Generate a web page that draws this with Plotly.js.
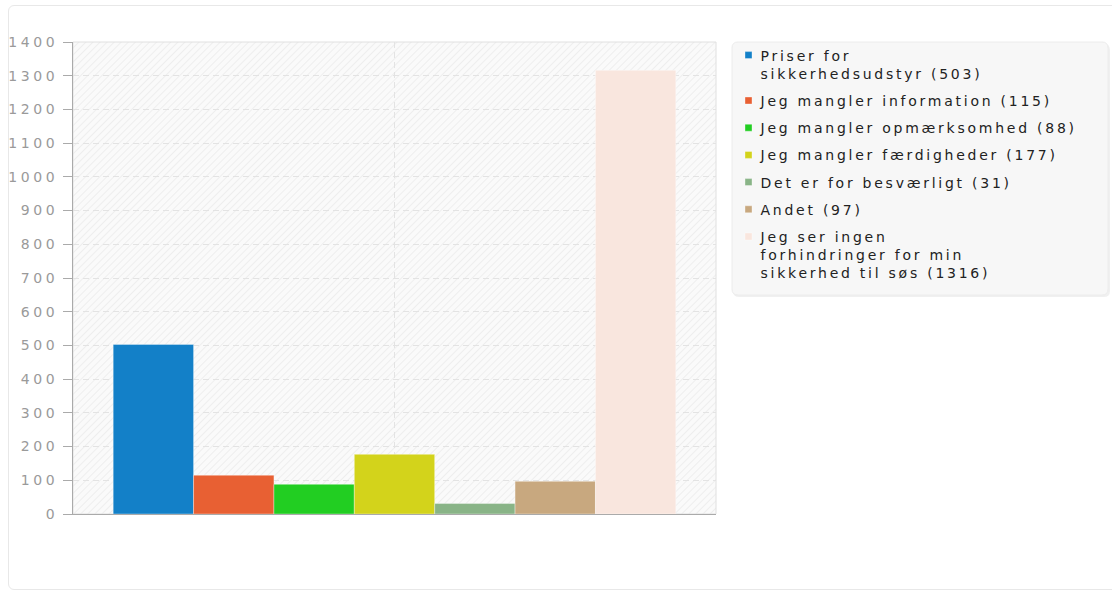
<!DOCTYPE html>
<html><head><meta charset="utf-8">
<script src="https://cdn.plot.ly/plotly-3.0.1.min.js"></script>
<style>
html,body{margin:0;padding:0;background:#fff;}
#card{position:absolute;left:8px;top:5px;width:1110px;height:585px;border:1px solid #e8e8e8;border-radius:6px;box-sizing:border-box;}
#chart{position:absolute;left:0;top:0;width:1112px;height:592px;}
svg text{letter-spacing:3.6px;}
svg text.legendtext{letter-spacing:2.75px;}
#chart .bglayer .bg{fill:url(#hatch) !important;}
</style></head>
<body>
<svg width="0" height="0" style="position:absolute">
  <defs>
    <pattern id="hatch" patternUnits="userSpaceOnUse" width="5" height="5" patternTransform="rotate(45)">
      <rect width="5" height="5" fill="#fafafa"></rect>
      <line x1="0" y1="0" x2="0" y2="5" stroke="#ececec" stroke-width="1.6"></line>
    </pattern>
  </defs>
</svg>
<div id="card"></div>
<div id="chart"></div>
<script>
const categories = ['Svar'];
const seriesNames = [
  'Priser for<br>sikkerhedsudstyr (503)',
  'Jeg mangler information (115)',
  'Jeg mangler opmærksomhed (88)',
  'Jeg mangler færdigheder (177)',
  'Det er for besværligt (31)',
  'Andet (97)',
  'Jeg ser ingen<br>forhindringer for min<br>sikkerhed til søs (1316)'
];
const seriesValues = [503, 115, 88, 177, 31, 97, 1316];
const seriesColors = ['#1380c8', '#e86033', '#22ce22', '#d3d31b', '#89b487', '#c8a87f', '#f9e6de'];
const yTicks = [0,100,200,300,400,500,600,700,800,900,1000,1100,1200,1300,1400];

const traces = seriesNames.map((n, i) => ({
  type: 'bar',
  name: n,
  x: categories,
  y: [seriesValues[i]],
  legendgroup: 'g' + i,
  marker: {color: seriesColors[i], line: {color: 'rgba(255,255,255,0.35)', width: 1}},
  hoverinfo: 'name+y'
}));

// legend panel drawn as paper-referenced shapes
const L = 73, T = 42, PW = 643, PH = 472;
const px = v => (v - L) / PW;
const py = v => (T + PH - v) / PH;
function roundRect(x0, y0, x1, y1, r) {
  const rx = r / PW, ry = r / PH;
  const X0 = px(x0), X1 = px(x1), Y0 = py(y0), Y1 = py(y1);
  return `M${X0 + rx},${Y0} L${X1 - rx},${Y0} Q${X1},${Y0} ${X1},${Y0 - ry} L${X1},${Y1 + ry} Q${X1},${Y1} ${X1 - rx},${Y1} L${X0 + rx},${Y1} Q${X0},${Y1} ${X0},${Y1 + ry} L${X0},${Y0 - ry} Q${X0},${Y0} ${X0 + rx},${Y0} Z`;
}

const layout = {
  width: 1112, height: 592,
  margin: {l: L, r: 1112 - L - PW, t: T, b: 592 - T - PH},
  paper_bgcolor: 'rgba(0,0,0,0)',
  plot_bgcolor: '#fafafa',
  barmode: 'group',
  bargap: 0.125,
  bargroupgap: 0,
  font: {family: 'DejaVu Sans, Verdana, sans-serif', size: 14, color: '#333'},
  xaxis: {
    type: 'category', showticklabels: false, ticks: '',
    showgrid: true, gridcolor: '#e3e3e3', griddash: '6px,4px', gridwidth: 1,
    showline: true, linecolor: '#aaaaaa', linewidth: 1,
    zeroline: false, fixedrange: true
  },
  yaxis: {
    range: [0, 1400], tickvals: yTicks, ticktext: yTicks.map(String),
    ticks: 'outside', ticklen: 9, tickcolor: '#aaaaaa',
    ticklabelstandoff: 2,
    tickfont: {size: 14, color: '#9a9a9a'},
    showgrid: true, gridcolor: '#e3e3e3', griddash: '6px,4px', gridwidth: 1,
    showline: true, linecolor: '#aaaaaa', linewidth: 1,
    zeroline: false, fixedrange: true
  },
  shapes: [
    {type: 'rect', xref: 'paper', yref: 'paper', x0: 0, x1: 1, y0: 0, y1: 1,
     line: {color: '#e0e0e0', width: 1}, fillcolor: 'rgba(0,0,0,0)', layer: 'below'},
    {type: 'path', xref: 'paper', yref: 'paper', path: roundRect(733, 44, 1110, 297, 6),
     line: {width: 0}, fillcolor: 'rgba(0,0,0,0.06)', layer: 'above'},
    {type: 'path', xref: 'paper', yref: 'paper', path: roundRect(732, 42, 1108, 295, 6),
     line: {color: '#ececec', width: 1}, fillcolor: '#f7f7f7', layer: 'above'}
  ],
  legend: {
    x: px(720.5), xanchor: 'left', y: 1 + 2.5 / PH, yanchor: 'top',
    bgcolor: 'rgba(0,0,0,0)', borderwidth: 0,
    font: {size: 14, color: '#222'},
    tracegroupgap: 6,
    traceorder: 'grouped',
    valign: 'top',
    itemclick: false, itemdoubleclick: false
  },
  showlegend: true
};

Plotly.newPlot('chart', traces, layout, {displayModeBar: false}).then(gd => {
  // smaller legend swatches, as in the reference
  gd.querySelectorAll('.legendpoints path').forEach(p => p.setAttribute('d', 'M11.5,3.5H4.5V-3.5H11.5Z'));
});
</script>
</body></html>
